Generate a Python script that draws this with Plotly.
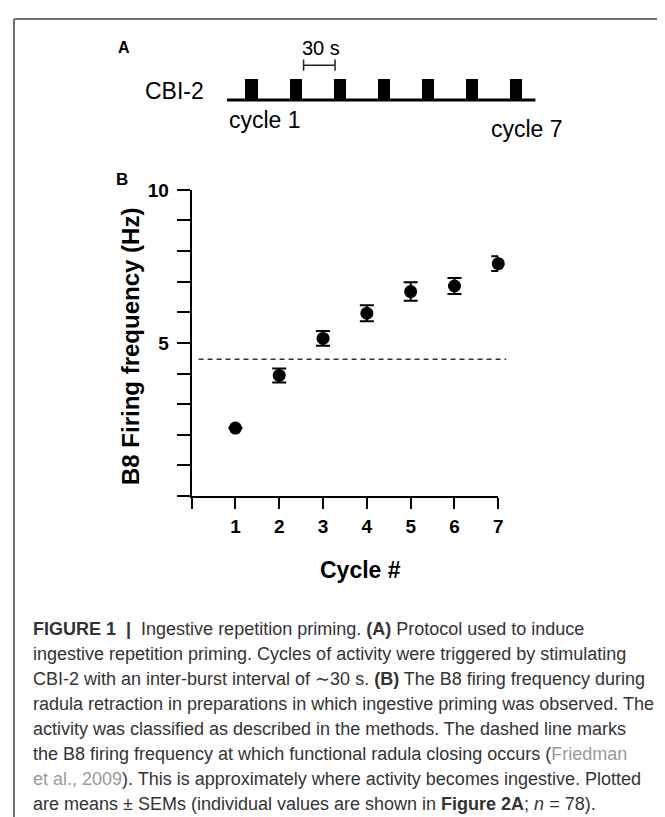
import plotly.graph_objects as go

W, H = 665, 817
OFF = 8  # the page body adds an 8px margin; layout positions are given in window pixels

# ---------------- data ----------------
# Panel B: B8 firing frequency per cycle (means ± SEM)
CYCLES = [1, 2, 3, 4, 5, 6, 7]
MEAN_HZ = [2.22, 3.94, 5.15, 5.97, 6.68, 6.86, 7.59]
# cycle 1: SEM bar is smaller than the symbol and not drawn in the reference
SEM_HZ = [None, 0.23, 0.24, 0.26, 0.30, 0.26, 0.24]
THRESHOLD_HZ = 4.47          # functional radula closing (dashed line)
X_TICKS = [0, 1, 2, 3, 4, 5, 6, 7]
X_TICKTEXT = ["", "1", "2", "3", "4", "5", "6", "7"]
Y_TICKS = [0, 1, 2, 3, 4, 5, 6, 7, 8, 9, 10]
Y_TICKTEXT = ["", "", "", "", "", "5", "", "", "", "", "10"]

# Panel A: stimulation protocol (seconds)
BURST_STARTS_S = [0, 42, 84, 126, 168, 210, 252]
BURST_DURATION_S = 12
TRACE_SPAN_S = [-18, 276]
SCALE_BAR_S = [55, 85]        # 30 s scale bar

CAPTION_LINES = [
    "<b>FIGURE 1</b>\u00a0\u00a0<b>|</b>\u00a0\u00a0Ingestive repetition priming. <b>(A)</b> Protocol used to induce",
    "ingestive repetition priming. Cycles of activity were triggered by stimulating",
    "CBI-2 with an inter-burst interval of \u223c30 s. <b>(B)</b> The B8 firing frequency during",
    "radula retraction in preparations in which ingestive priming was observed. The",
    "activity was classified as described in the methods. The dashed line marks",
    "the B8 firing frequency at which functional radula closing occurs (<span style='color:#9a9a9a'>Friedman</span>",
    "<span style='color:#9a9a9a'>et al., 2009</span>). This is approximately where activity becomes ingestive. Plotted",
    "are means \u00b1 SEMs (individual values are shown in <b>Figure 2A</b>; <i>n</i> = 78).",
]

FONT = "Liberation Sans, Arial, Helvetica, sans-serif"


def px(x):
    return (x - OFF) / W


def py(y):
    return 1 - (y - OFF) / H


fig = go.Figure()

# ---------------- Panel B ----------------
fig.add_trace(go.Scatter(
    x=CYCLES, y=MEAN_HZ, mode="markers",
    marker=dict(size=13, color="black"),
    error_y=dict(type="data", array=SEM_HZ, visible=True,
                 thickness=2, width=7, color="black"),
    xaxis="x", yaxis="y", cliponaxis=False, hoverinfo="x+y",
))

# ---------------- Panel A ----------------
fig.add_trace(go.Scatter(
    x=TRACE_SPAN_S, y=[0, 0], mode="lines",
    line=dict(color="black", width=3),
    xaxis="x2", yaxis="y2", hoverinfo="skip",
))
fig.add_trace(go.Bar(
    x=[s + BURST_DURATION_S / 2 for s in BURST_STARTS_S],
    y=[1] * len(BURST_STARTS_S), base=0,
    width=BURST_DURATION_S,
    marker=dict(color="black", line=dict(width=0)),
    xaxis="x2", yaxis="y2", hoverinfo="skip",
))
fig.add_trace(go.Scatter(
    x=SCALE_BAR_S, y=[1.68, 1.68], mode="lines+markers",
    line=dict(color="#222", width=1.5),
    marker=dict(symbol="line-ns", size=8, line=dict(color="#222", width=1.5)),
    xaxis="x2", yaxis="y2", hoverinfo="skip", cliponaxis=False,
))

axis_common = dict(showgrid=False, zeroline=False, fixedrange=True)

fig.update_layout(
    width=W, height=H,
    margin=dict(l=0, r=0, t=0, b=0),
    paper_bgcolor="white", plot_bgcolor="white",
    showlegend=False,
    bargap=0,
    font=dict(family=FONT, color="black"),
    xaxis=dict(
        domain=[px(193), px(502)], range=[0, 7], anchor="y",
        showline=True, linewidth=2, linecolor="black",
        ticks="outside", ticklen=11, tickwidth=2, tickcolor="black",
        tickvals=X_TICKS, ticktext=X_TICKTEXT, ticklabelstandoff=1,
        tickfont=dict(size=19, family=FONT, weight="bold", color="black"),
        **axis_common,
    ),
    yaxis=dict(
        domain=[py(492), py(182)], range=[0, 10], anchor="x",
        showline=True, linewidth=2, linecolor="black",
        ticks="outside", ticklen=13, tickwidth=2, tickcolor="black",
        tickvals=Y_TICKS, ticktext=Y_TICKTEXT, ticklabelstandoff=4,
        tickfont=dict(size=19, family=FONT, weight="bold", color="black"),
        **axis_common,
    ),
    xaxis2=dict(
        domain=[px(216.0), px(554.2)], range=[-30, 290], anchor="y2",
        visible=False, **axis_common,
    ),
    yaxis2=dict(
        domain=[py(112), py(28)], range=[-1, 3], anchor="x2",
        visible=False, **axis_common,
    ),
)

# threshold dashed line (value from data, horizontal extent in layout)
fig.add_shape(type="line", xref="paper", yref="y",
              x0=px(200), x1=px(510), y0=THRESHOLD_HZ, y1=THRESHOLD_HZ,
              line=dict(color="#333", width=1.5, dash="5px,4px"))

# figure frame (top and left rules)
fig.add_shape(type="line", xref="paper", yref="paper",
              x0=px(14), x1=px(665 + OFF), y0=py(9), y1=py(9),
              line=dict(color="#707070", width=2))
fig.add_shape(type="line", xref="paper", yref="paper",
              x0=px(14), x1=px(14), y0=py(9), y1=py(817 + OFF),
              line=dict(color="#707070", width=2))

ann = []


def add_text(text, x, y, size, xanchor="center", bold=False, color="black", angle=0):
    ann.append(dict(
        text=text, x=px(x), y=py(y), xref="paper", yref="paper",
        xanchor=xanchor, yanchor="middle", showarrow=False, textangle=angle,
        font=dict(size=size, family=FONT, color=color,
                  weight="bold" if bold else "normal"),
    ))


add_text("A", 125, 38, 16, bold=True)
add_text("30 s", 323, 38, 20)
add_text("CBI-2", 207, 82, 23, xanchor="right")
add_text("cycle 1", 229, 111, 23, xanchor="left")
add_text("cycle 7", 493, 120, 23, xanchor="left")
add_text("B", 123, 172, 17, bold=True)
add_text("B8 Firing frequency (Hz)", 132, 341, 24, bold=True, angle=-90)
add_text("Cycle #", 363, 567, 23, bold=True)

for i, line in enumerate(CAPTION_LINES):
    add_text(line, 31, 627 + 25.2 * i, 18, xanchor="left", color="#333333")

fig.update_layout(annotations=ann)

fig.write_html("out.html")
